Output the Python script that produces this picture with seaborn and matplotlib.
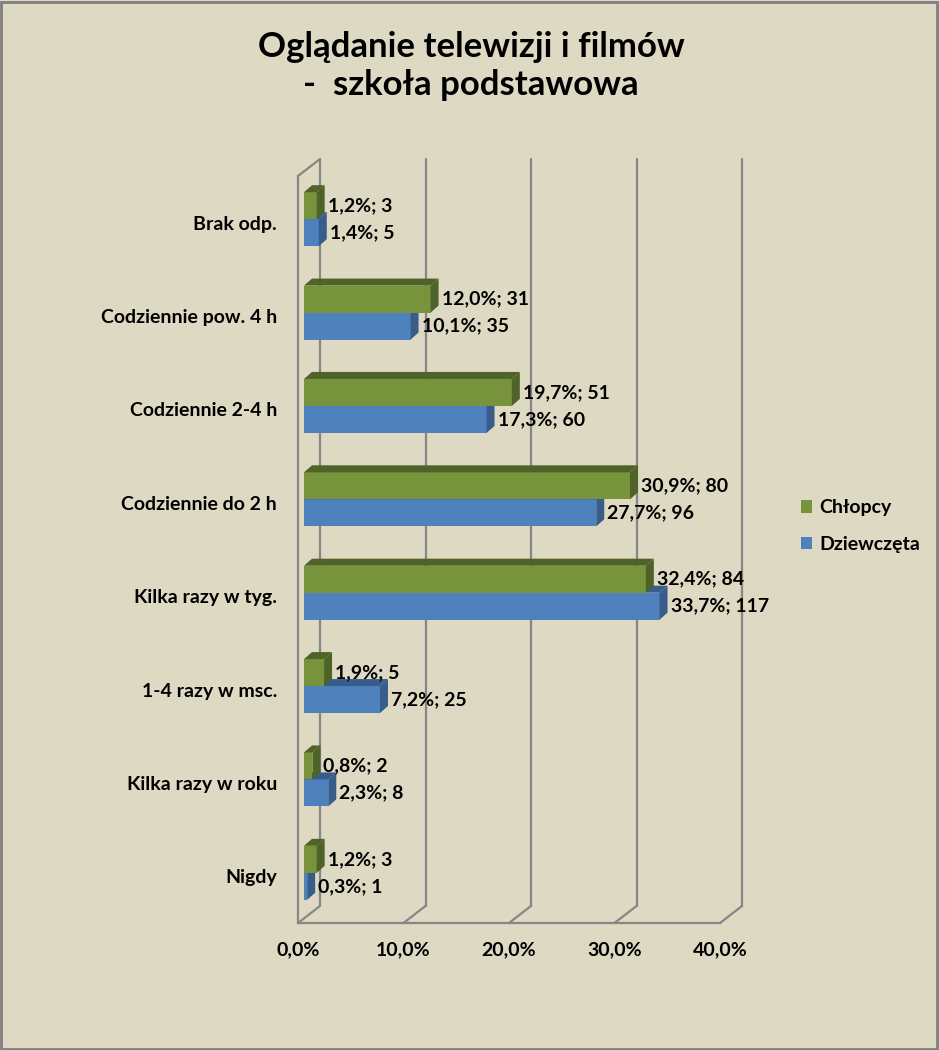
import matplotlib
matplotlib.use("Agg")
import matplotlib.pyplot as plt
import seaborn as sns
import pandas as pd
from matplotlib.patches import Patch, Rectangle

# dane z wykresu
kategorie = ['Brak odp.', 'Codziennie pow. 4 h', 'Codziennie 2-4 h',
             'Codziennie do 2 h', 'Kilka razy w tyg.', '1-4 razy w msc.',
             'Kilka razy w roku', 'Nigdy']
chlopcy_proc = [1.2, 12.0, 19.7, 30.9, 32.4, 1.9, 0.8, 1.2]
chlopcy_n = [3, 31, 51, 80, 84, 5, 2, 3]
dziewczeta_proc = [1.4, 10.1, 17.3, 27.7, 33.7, 7.2, 2.3, 0.3]
dziewczeta_n = [5, 35, 60, 96, 117, 25, 8, 1]
grupy = ['Chłopcy', 'Dziewczęta']
x_ticks = [0, 10, 20, 30, 40]
x_labels = ['0,0%', '10,0%', '20,0%', '30,0%', '40,0%']

TLO = '#DDD9C3'
SIATKA = '#868686'
KOLORY = {'Chłopcy': '#77933C', 'Dziewczęta': '#4F81BD'}
BOKI = {'Chłopcy': '#4F6228', 'Dziewczęta': '#385D8A'}
FS = 14

sns.set_style("white")
plt.rcParams['font.family'] = ['Lato', 'DejaVu Sans']
plt.rcParams['font.weight'] = 'bold'
plt.rcParams['text.color'] = 'black'

W, H = 939, 1050
fig = plt.figure(figsize=(W / 100, H / 100), dpi=100, facecolor=TLO)

# pozycja przedniej plaszczyzny osi (piksele)
left_px, right_px, top_px, bot_px = 298, 720, 176, 923
ax = fig.add_axes([left_px / W, 1 - bot_px / H, (right_px - left_px) / W,
                   (bot_px - top_px) / H])
ax.set_facecolor('none')

px_x = (right_px - left_px) / 40.0
px_y = (bot_px - top_px) / 8.0
DX, DY = 22 / px_x, 17 / px_y          # glebokosc sciany tylnej
BDX, BDY = 8 / px_x, 7 / px_y          # glebokosc slupka
SX, SY = 6 / px_x, 3.5 / px_y          # przesuniecie slupkow w glab

df = pd.DataFrame({
    'kategoria': kategorie * 2,
    'procent': chlopcy_proc + dziewczeta_proc,
    'n': chlopcy_n + dziewczeta_n,
    'grupa': ['Chłopcy'] * 8 + ['Dziewczęta'] * 8,
})

sns.barplot(data=df, y='kategoria', x='procent', hue='grupa', orient='h',
            order=kategorie, hue_order=grupy, palette=KOLORY, width=0.578,
            saturation=1, linewidth=0, legend=False, ax=ax)

ax.set_xlim(0, 40)
ax.set_ylim(7.5, -0.5)

# efekt 3D na slupkach + etykiety
bars = list(ax.patches)
for idx, p in enumerate(bars):
    grupa = grupy[idx // 8]
    i = idx % 8
    z = 4 if grupa == 'Chłopcy' else 3
    x0 = p.get_x() + SX
    yt = p.get_y() - SY
    w = p.get_width()
    h = p.get_height()
    p.set_x(x0)
    p.set_y(yt)
    p.set_zorder(z)
    p.set_clip_on(False)
    x1 = x0 + w
    yb = yt + h
    ax.fill([x0, x1, x1 + BDX, x0 + BDX], [yt, yt, yt - BDY, yt - BDY],
            color=BOKI[grupa], lw=0, zorder=z, clip_on=False)
    ax.fill([x1, x1, x1 + BDX, x1 + BDX], [yt, yb, yb - BDY, yt - BDY],
            color=BOKI[grupa], lw=0, zorder=z, clip_on=False)
    proc = chlopcy_proc[i] if grupa == 'Chłopcy' else dziewczeta_proc[i]
    n = chlopcy_n[i] if grupa == 'Chłopcy' else dziewczeta_n[i]
    etykieta = f"{proc:.1f}".replace('.', ',') + f"%; {n}"
    ax.text(x1 + BDX + 3 / px_x, (yt + yb) / 2, etykieta, ha='left',
            va='center', fontsize=FS, fontweight='bold', color='black',
            zorder=6)

# sciana tylna i podloga
for v in x_ticks:
    ax.plot([v + DX, v + DX], [-0.5 - DY, 7.5 - DY], color=SIATKA, lw=1.6,
            zorder=1, clip_on=False)
    ax.plot([v, v + DX], [7.5, 7.5 - DY], color=SIATKA, lw=1.6, zorder=1,
            clip_on=False)
ax.plot([0, DX], [-0.5, -0.5 - DY], color=SIATKA, lw=1.6, zorder=1,
        clip_on=False)

# osie
for s in ['top', 'right']:
    ax.spines[s].set_visible(False)
for s in ['left', 'bottom']:
    ax.spines[s].set_color(SIATKA)
    ax.spines[s].set_linewidth(1.6)

ax.set_xticks(x_ticks, x_labels)
ax.set_yticks(range(8), kategorie)
ax.set_yticks([k - 0.5 for k in range(9)], minor=True)
ax.tick_params(axis='y', which='major', length=0, pad=15, labelsize=FS,
               labelcolor='black')
ax.tick_params(axis='y', which='minor', length=5, color=SIATKA, width=1.6)
ax.tick_params(axis='x', length=5, color=SIATKA, width=1.6, pad=8,
               labelsize=FS, labelcolor='black')
for t in ax.get_xticklabels() + ax.get_yticklabels():
    t.set_fontweight('bold')
ax.set_xlabel('')
ax.set_ylabel('')
ax.grid(False)

# tytul
fig.text(471 / W, 1 - 66 / H,
         'Oglądanie telewizji i filmów\n-  szkoła podstawowa',
         ha='center', va='center', fontsize=25, fontweight='bold',
         color='black', linespacing=1.25)

# legenda
uchwyty = [Patch(facecolor=KOLORY[g], edgecolor='none', label=g) for g in grupy]
leg = fig.legend(handles=uchwyty, loc='center left',
                 bbox_to_anchor=(783 / W, 1 - 526 / H), frameon=False,
                 fontsize=FS, handlelength=0.6, handleheight=0.6,
                 handletextpad=0.35, labelspacing=1.0)
for t in leg.get_texts():
    t.set_color('black')

# ramka wykresu
fig.patches.append(Rectangle((0.001, 0.001), 0.997, 0.997,
                             transform=fig.transFigure, fill=False,
                             edgecolor='#7F7F7F', lw=2))

fig.savefig('out.png', dpi=100, facecolor=TLO)
